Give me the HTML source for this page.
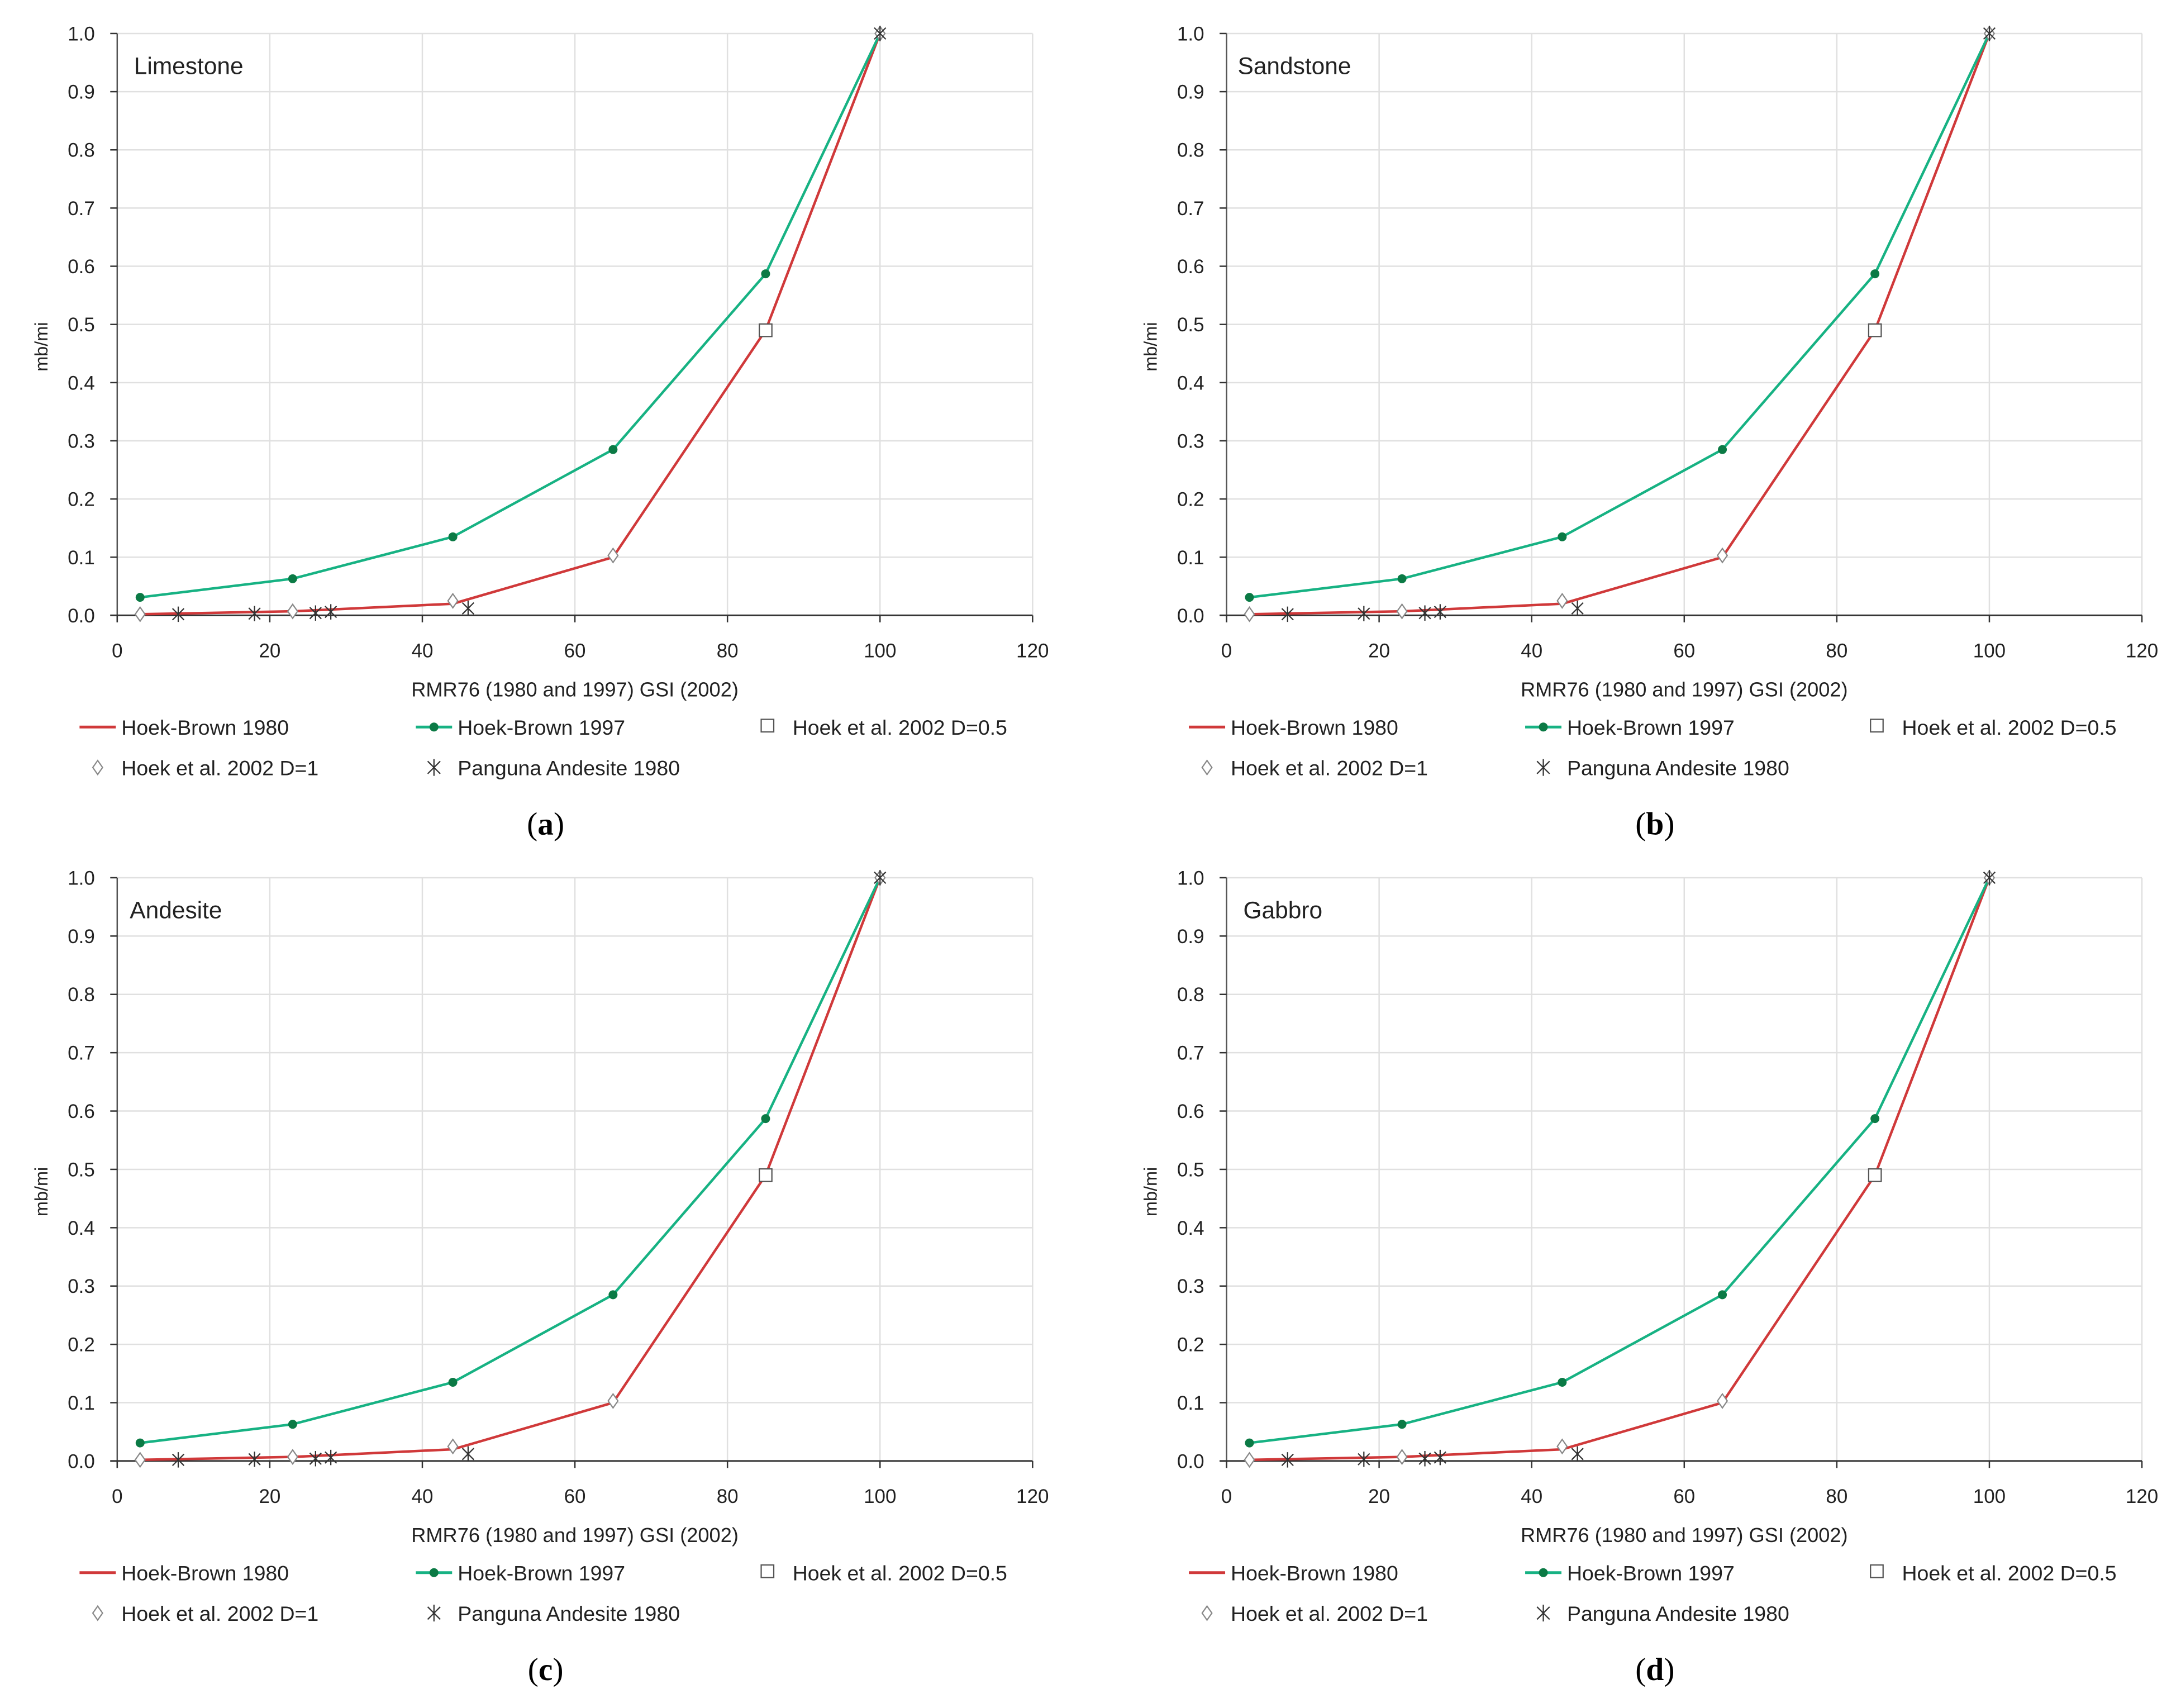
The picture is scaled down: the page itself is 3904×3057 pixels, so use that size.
<!DOCTYPE html>
<html><head><meta charset="utf-8"><style>
html,body{margin:0;padding:0;background:#fff;}
svg{display:block;}
text{font-family:"Liberation Sans Narrow","Liberation Sans",sans-serif;fill:#222;}
</style></head><body>
<svg id="chart" width="3904" height="3057" viewBox="0 0 1563 1224" preserveAspectRatio="none" xmlns="http://www.w3.org/2000/svg"></svg>
<script>
const panelNames = ["Limestone","Sandstone","Andesite","Gabbro"];
const panelLetters = ["a","b","c","d"];
const xTicks = [0,20,40,60,80,100,120];
const yTicks = [0.0,0.1,0.2,0.3,0.4,0.5,0.6,0.7,0.8,0.9,1.0];
const hb1980X = [3,23,44,65,85,100];
const hb1980Y = [0.002,0.007,0.02,0.1,0.49,1.0];
const hb1997X = [3,23,44,65,85,100];
const hb1997Y = [0.031,0.063,0.135,0.285,0.587,1.0];
const d05X = [85];
const d05Y = [0.49];
const d1X = [3,23,44,65,100];
const d1Y = [0.002,0.007,0.025,0.103,1.0];
const pangX = [8,18,26,28,46,100];
const pangY = [0.002,0.003,0.004,0.006,0.012,1.0];

const NS="http://www.w3.org/2000/svg";
const svg=document.getElementById('chart');
function mk(tag,attrs,parent){const e=document.createElementNS(NS,tag);for(const k in attrs)e.setAttribute(k,attrs[k]);(parent||svg).appendChild(e);return e;}
const boxes=[{l:84,r:740,t:24,b:441},{l:879,r:1535,t:24,b:441},{l:84,r:740,t:629,b:1047},{l:879,r:1535,t:629,b:1047}];

function diamond(g,x,y,s){return mk('path',{d:`M${x},${y-s}L${x+s*0.7},${y}L${x},${y+s}L${x-s*0.7},${y}Z`,fill:'#fff',stroke:'#888','stroke-width':0.9},g);}
function square(g,x,y,s){return mk('rect',{x:x-s,y:y-s,width:2*s,height:2*s,fill:'#fff',stroke:'#555','stroke-width':0.9},g);}
function star(g,x,y,s){return mk('path',{d:`M${x},${y-s}L${x},${y+s}M${x-s*0.75},${y-s*0.75}L${x+s*0.75},${y+s*0.75}M${x-s*0.75},${y+s*0.75}L${x+s*0.75},${y-s*0.75}`,stroke:'#333','stroke-width':0.9,fill:'none'},g);}

boxes.forEach((B,i)=>{
  const g=mk('g',{});
  
  
  const sx=v=>B.l+(v-0)/120*(B.r-B.l);
  const sy=v=>B.b-v*(B.b-B.t);
  // grid
  yTicks.forEach(v=>{if(v>0){const l=mk('line',{x1:B.l,x2:B.r,y1:sy(v),y2:sy(v),stroke:'#e0e0e0','stroke-width':1},g);}});
  xTicks.forEach(v=>{if(v>0){const l=mk('line',{x1:sx(v),x2:sx(v),y1:B.t,y2:B.b,stroke:'#e0e0e0','stroke-width':1},g);}});
  // axes
  const ya=mk('line',{x1:B.l,x2:B.l,y1:B.t,y2:B.b+5,stroke:'#555','stroke-width':1},g);
  
  const xa=mk('line',{x1:B.l-5,x2:B.r,y1:B.b,y2:B.b,stroke:'#333','stroke-width':1.2},g);
  
  yTicks.forEach(v=>{
    mk('line',{x1:B.l-5,x2:B.l,y1:sy(v),y2:sy(v),stroke:'#333','stroke-width':1},g);
    const t=mk('text',{x:B.l-16,y:sy(v)+5,'text-anchor':'end','font-size':14},g);
    
    t.textContent=v.toFixed(1);
  });
  xTicks.forEach(v=>{
    mk('line',{x1:sx(v),x2:sx(v),y1:B.b,y2:B.b+5,stroke:'#333','stroke-width':1},g);
    const t=mk('text',{x:sx(v),y:B.b+30,'text-anchor':'middle','font-size':14},g);
    
    t.textContent=v;
  });
  const yt=mk('text',{x:0,y:0,'text-anchor':'middle','font-size':13,transform:`translate(${B.l-50},${(B.t+B.b)/2+16}) rotate(-90)`},g);
  yt.textContent='mb/mi';
  const xt=mk('text',{x:B.l+328,y:B.b+58,'text-anchor':'middle','font-size':14.5},g);
  xt.textContent='RMR76 (1980  and  1997)  GSI (2002)';
  const nm=mk('text',{x:B.l+(i==2?9:(i==0?12:8+ (i==3?4:0))),y:B.t+29,'font-size':17},g);
  nm.textContent=panelNames[i];
  // series
  const pts=(X,Y)=>X.map((x,k)=>sx(x)+','+sy(Y[k])).join(' ');
  const r=mk('polyline',{points:pts(hb1980X,hb1980Y),fill:'none',stroke:'#d0393a','stroke-width':1.8},g);
  
  const gr=mk('polyline',{points:pts(hb1997X,hb1997Y),fill:'none',stroke:'#17b283','stroke-width':1.8},g);
  
  hb1997X.forEach((x,k)=>{const c=mk('circle',{cx:sx(x),cy:sy(hb1997Y[k]),r:3.2,fill:'#0b7a45'},g);});
  d1X.forEach((x,k)=>{const m=diamond(g,sx(x),sy(d1Y[k]),5);});
  d05X.forEach((x,k)=>{const m=square(g,sx(x),sy(d05Y[k]),4.5);});
  pangX.forEach((x,k)=>{const m=star(g,sx(x),sy(pangY[k]),5.5);});
  // legend
  const L=mk('g',{},g);
  const r1=B.b+80,r2=B.b+109,o=B.l-84;
  mk('line',{x1:o+57,x2:o+83,y1:r1,y2:r1,stroke:'#d0393a','stroke-width':2},L);
  mk('line',{x1:o+298,x2:o+324,y1:r1,y2:r1,stroke:'#17b283','stroke-width':2},L);
  mk('circle',{cx:o+311,cy:r1,r:3.2,fill:'#0b7a45'},L);
  square(L,o+550,r1-1,4.5);
  diamond(L,o+70,r2,5);
  star(L,o+311,r2,6);
  [[o+87,r1,'Hoek-Brown 1980'],[o+328,r1,'Hoek-Brown 1997'],[o+568,r1,'Hoek et al. 2002 D=0.5'],[o+87,r2,'Hoek et al. 2002 D=1'],[o+328,r2,'Panguna Andesite 1980']].forEach(a=>{
    const t=mk('text',{x:a[0],y:a[1]+5.5,'font-size':15},L);
    t.textContent=a[2];
  });
  const pl=mk('text',{x:B.l+307,y:B.b+157,'text-anchor':'middle','font-size':23,style:'font-family:"Liberation Serif",serif;fill:#000'},g);
  
  pl.innerHTML='(<tspan font-weight="bold">'+panelLetters[i]+'</tspan>)';
});
</script>
</body></html>
